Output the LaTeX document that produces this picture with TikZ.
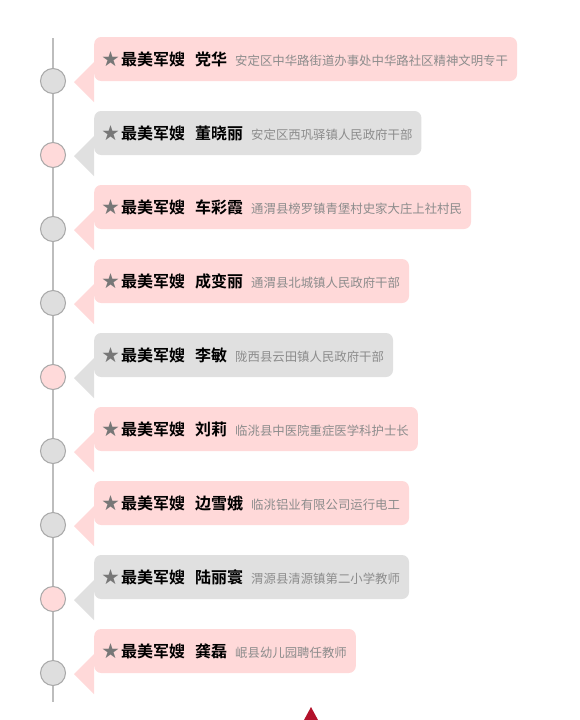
\documentclass[tikz,border=0pt]{standalone}
\usepackage{fontspec}
\newfontfamily\cjk{Noto Sans CJK SC}
\newfontfamily\cjkb{Noto Sans CJK SC Bold}
\usetikzlibrary{calc}
\definecolor{pinkbox}{HTML}{FFD9D9}
\definecolor{graybox}{HTML}{E0E0E0}
\definecolor{circgray}{HTML}{DEDEDE}
\definecolor{circpink}{HTML}{FFDADA}
\definecolor{circborder}{HTML}{A8A8A8}
\definecolor{linegray}{HTML}{BDBDBD}
\definecolor{startext}{HTML}{777777}
\definecolor{desctext}{HTML}{8C8C8C}
\definecolor{redmark}{HTML}{B3122B}
\tikzset{
 card/.style={anchor=west, inner xsep=0pt, inner ysep=0pt, minimum height=44pt, rounded corners=7pt, fill=#1, text=black},
 dot/.style={circle, draw=circborder, line width=1pt, fill=#1, minimum size=25pt, inner sep=0pt},
 spine/.style={draw=linegray, line width=2pt},
}
\newcommand\cardtext[2]{\kern8pt{\cjk\fontsize{17}{17}\selectfont\color{startext}★}\kern2pt{\cjkb\fontsize{16}{16}\selectfont 最美军嫂\kern10pt#1}\kern8pt{\cjk\fontsize{12.4}{14}\selectfont\color{desctext}#2}\kern9pt\null}
\begin{document}
\begin{tikzpicture}[x=1pt,y=-1pt]
\useasboundingbox (0,0) rectangle (579,720);
\fill[white] (0,0) rectangle (579,720);
\coordinate (top) at (53,38);
\coordinate (bot) at (53,702);
\draw[spine] (top) -- (bot);
\foreach \i/\bc/\cc/\nm/\ds in {
 1/pinkbox/circgray/党华/安定区中华路街道办事处中华路社区精神文明专干,
 2/graybox/circpink/董晓丽/安定区西巩驿镇人民政府干部,
 3/pinkbox/circgray/车彩霞/通渭县榜罗镇青堡村史家大庄上社村民,
 4/pinkbox/circgray/成变丽/通渭县北城镇人民政府干部,
 5/graybox/circpink/李敏/陇西县云田镇人民政府干部,
 6/pinkbox/circgray/刘莉/临洮县中医院重症医学科护士长,
 7/pinkbox/circgray/边雪娥/临洮铝业有限公司运行电工,
 8/graybox/circpink/陆丽寰/渭源县清源镇第二小学教师,
 9/pinkbox/circgray/龚磊/岷县幼儿园聘任教师}{
 \pgfmathsetmacro\c{59+74*(\i-1)}
 \node[card=\bc] (card\i) at (94,\c) {\cardtext{\nm}{\ds}};
 \coordinate (tip\i) at (74,\c+23);
 \fill[\bc] ($(card\i.west)+(0,3)$) -- (tip\i) -- ($(card\i.west)+(0,43)$) -- cycle;
 \node[dot=\cc] (dot\i) at (53,\c+22) {};
}
\fill[redmark] (311,707) -- (304,720) -- (318,720) -- cycle;
\end{tikzpicture}
\end{document}
